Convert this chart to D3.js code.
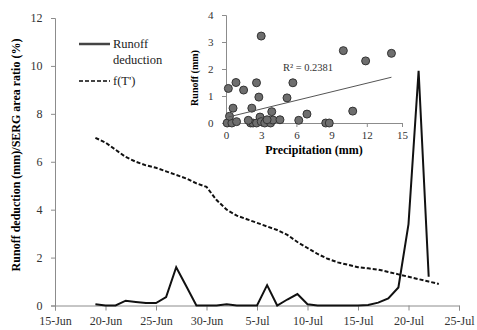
<!DOCTYPE html>
<meta charset="utf-8">
<style>
  body { margin: 0; background: #fff; }
  svg, svg text { font-family: 'Liberation Serif', 'DejaVu Serif', serif; }
  .axis path, .axis line { stroke: #8c8c8c; }
  .axis text { fill: #333; }
</style>
<script src="https://d3js.org/d3.v7.min.js"></script>
<svg width="477" height="330"></svg>
<script>
// main series, daily from 19-Jun to 23-Jul
var startDate = "2000-06-19";
var runoffDeduction = [0.05, 0.0, 0.0, 0.2, 0.15, 0.1, 0.1, 0.35, 1.6, 0.8, 0.0, 0.0,
  0.0, 0.05, 0.0, 0.0, 0.0, 0.85, 0.0, 0.25, 0.48, 0.05, 0.0, 0.0, 0.0, 0.0, 0.0,
  0.02, 0.12, 0.3, 0.75, 3.4, 9.8, 1.2];
var fT = [7.0, 6.8, 6.5, 6.2, 6.0, 5.85, 5.75, 5.6, 5.45, 5.3, 5.1, 4.95,
  4.4, 4.0, 3.75, 3.6, 3.45, 3.3, 3.15, 2.95, 2.65, 2.4, 2.15, 1.95, 1.8, 1.7,
  1.6, 1.55, 1.5, 1.4, 1.3, 1.2, 1.1, 1.0, 0.9];
var xTickLabels = ["15-Jun", "20-Jun", "25-Jun", "30-Jun", "5-Jul", "10-Jul", "15-Jul", "20-Jul", "25-Jul"];
var yTicks = [0, 2, 4, 6, 8, 10, 12];

// inset scatter
var precip = [0.1, 0.5, 0.3, 0.2, 0.85, 1.5, 0.6, 0.9, 2.1, 2.3, 2.6, 2.2, 2.9, 3.0,
  3.3, 3.8, 2.6, 2.8, 3.0, 4.0, 4.6, 3.9, 5.2, 5.7, 6.2, 6.9, 8.5, 8.8, 10.0, 10.8,
  11.9, 14.1, 1.9, 3.5];
var runoff = [0.0, 0.0, 0.25, 1.28, 1.5, 1.22, 0.55, 0.05, 0.0, 0.0, 0.0, 0.55, 0.22,
  0.05, 0.0, 0.0, 1.49, 0.96, 3.22, 0.11, 0.12, 0.42, 0.93, 1.49, 0.1, 0.33, 0.0, 0.0,
  2.68, 0.44, 2.3, 2.58, 0.1, 0.12];
var trendSlope = 0.106, trendIntercept = 0.2, trendFrom = 0.2, trendTo = 14.1;
var r2Label = "R\u00b2 = 0.2381";
var insetXTicks = [0, 3, 6, 9, 12, 15];
var insetYTicks = [0, 1, 2, 3, 4];

var svg = d3.select("svg");
var parse = d3.timeParse("%Y-%m-%d");
var d0 = parse(startDate);
function dayOf(i) { return d3.timeDay.offset(d0, i); }

var x = d3.scaleTime().domain([parse("2000-06-15"), parse("2000-07-25")]).range([55, 459]);
var y = d3.scaleLinear().domain([0, 12]).range([305.5, 18]);

var xTicks = d3.range(0, 41, 5).map(function(k) { return d3.timeDay.offset(parse("2000-06-15"), k); });

function serif(g) { g.attr("font-family", null); }

svg.append("g").attr("class", "axis")
  .attr("transform", "translate(0,305.5)")
  .call(d3.axisBottom(x).tickValues(xTicks).tickSizeOuter(0).tickSize(5)
    .tickFormat(function(d, i) { return xTickLabels[i]; }))
  .call(serif)
  .call(function(g) { g.selectAll("text").attr("font-size", 12).attr("dy", "0.95em"); });

svg.append("g").attr("class", "axis")
  .attr("transform", "translate(55,0)")
  .call(d3.axisLeft(y).tickValues(yTicks).tickSizeOuter(0).tickSize(4).tickFormat(d3.format("d")))
  .call(serif)
  .call(function(g) { g.selectAll("text").attr("font-size", 12).attr("dx", "-0.45em"); });

svg.append("text")
  .attr("transform", "translate(16,155) rotate(-90)")
  .attr("text-anchor", "middle").attr("dy", "0.35em")
  .attr("font-size", 12).attr("font-weight", "bold")
  .text("Runoff deduction (mm)/SERG area ratio (%)");

var line = d3.line().x(function(d, i) { return x(dayOf(i)); }).y(function(d) { return y(d); });

svg.append("path").datum(fT)
  .attr("d", line).attr("fill", "none")
  .attr("stroke", "#111").attr("stroke-width", 2).attr("stroke-dasharray", "4,2");

svg.append("path").datum(runoffDeduction)
  .attr("d", line).attr("fill", "none")
  .attr("stroke", "#111").attr("stroke-width", 2);

// legend
var lg = svg.append("g").attr("font-size", 12.5).attr("fill", "#222");
lg.append("line").attr("x1", 79).attr("x2", 110).attr("y1", 44).attr("y2", 44)
  .attr("stroke", "#444").attr("stroke-width", 2.5);
lg.append("text").attr("x", 113).attr("y", 48).text("Runoff");
lg.append("text").attr("x", 113).attr("y", 64).text("deduction");
lg.append("line").attr("x1", 79).attr("x2", 110).attr("y1", 81).attr("y2", 81)
  .attr("stroke", "#444").attr("stroke-width", 2).attr("stroke-dasharray", "4,2");
lg.append("text").attr("x", 113).attr("y", 85).text("f(T')");

// inset
var ix = d3.scaleLinear().domain([0, 15]).range([226, 402]);
var iy = d3.scaleLinear().domain([0, 4]).range([123, 15]);

svg.append("g").attr("class", "axis")
  .attr("transform", "translate(0,123)")
  .call(d3.axisBottom(ix).tickValues(insetXTicks).tickSizeOuter(0).tickSize(4))
  .call(serif)
  .call(function(g) { g.selectAll("text").attr("font-size", 11).attr("dy", "0.85em"); });

svg.append("g").attr("class", "axis")
  .attr("transform", "translate(226,0)")
  .call(d3.axisLeft(iy).tickValues(insetYTicks).tickSizeOuter(0).tickSize(4).tickFormat(d3.format("d")))
  .call(serif)
  .call(function(g) { g.selectAll("text").attr("font-size", 11).attr("dx", "-0.5em"); });

svg.append("g").selectAll("circle")
  .data(precip)
  .enter().append("circle")
  .attr("cx", function(d) { return ix(d); })
  .attr("cy", function(d, i) { return iy(runoff[i]); })
  .attr("r", 4)
  .attr("fill", "#6e6e6e").attr("stroke", "#333").attr("stroke-width", 1);

svg.append("line")
  .attr("x1", ix(trendFrom)).attr("y1", iy(trendIntercept + trendSlope * trendFrom))
  .attr("x2", ix(trendTo)).attr("y2", iy(trendIntercept + trendSlope * trendTo))
  .attr("stroke", "#555").attr("stroke-width", 1);

svg.append("text").attr("x", 308).attr("y", 71).attr("text-anchor", "middle")
  .attr("font-size", 10.5).attr("fill", "#333").text(r2Label);

svg.append("text").attr("x", 314).attr("y", 154).attr("text-anchor", "middle")
  .attr("font-size", 12).attr("font-weight", "bold").text("Precipitation  (mm)");

svg.append("text")
  .attr("transform", "translate(194,78) rotate(-90)")
  .attr("text-anchor", "middle").attr("dy", "0.35em")
  .attr("font-size", 10).attr("font-weight", "bold")
  .text("Runoff  (mm)");
</script>
